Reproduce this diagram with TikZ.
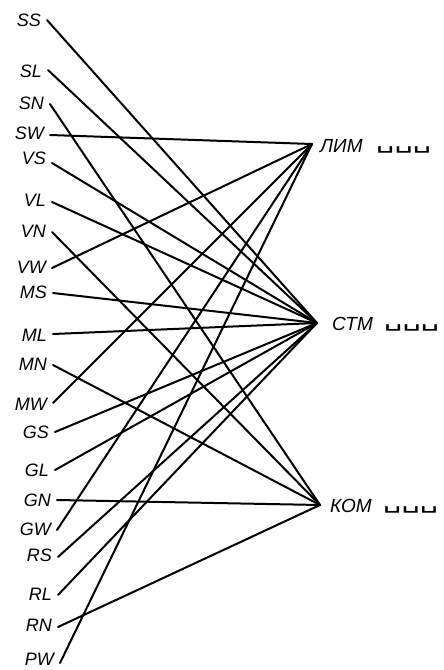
\documentclass[tikz,border=0pt]{standalone}
\usepackage{fontspec}
\usepackage{graphicx}
\setmainfont{Liberation Sans}
\newfontfamily\vsfont{DejaVu Sans Mono}
\newcommand{\vspaces}{\resizebox*{55pt}{6.5pt}{\vsfont ␣␣␣}}
\begin{document}
\begin{tikzpicture}[x=1pt,y=-1pt,
  lab/.style={font=\fontsize{18}{18}\selectfont\itshape, inner sep=0pt, anchor=east},
  rlab/.style={font=\fontsize{19}{19}\selectfont\itshape, inner sep=0pt, anchor=base west},
  vsp/.style={inner sep=0pt, anchor=south west},
  wire/.style={line width=2pt, line cap=round}]
\useasboundingbox (0,0) rectangle (444,670);
% right targets
\coordinate (lim) at (312,144);
\coordinate (stm) at (317,323);
\coordinate (kom) at (320,505);
\node[rlab] (limt) at (320,152) {ЛИМ};
\node[rlab] (stmt) at (332,330) {СТМ};
\node[rlab] (komt) at (330,512) {КОМ};
\node[vsp] (lims) at (376,153) {\vspaces};
\node[vsp] (stms) at (384,331) {\vspaces};
\node[vsp] (koms) at (383,513) {\vspaces};
% left sources: name / line start x / y / label y
\foreach \n/\x/\y/\ly in {SS/47/20/20, SL/48/70/71, SN/50/104/103, SW/50/135/133,
  VS/52/163/158, VL/52/202/200, VN/52/232/231, VW/52/268/267,
  MS/53/293/292, ML/53/334/335, MN/53/365/364, MW/53/403/404,
  GS/55/432/432, GL/55/470/470, GN/57/500/500, GW/57/530/529,
  RS/58/557/555, RL/58/595/594, RN/58/627/625, PW/60/663/659}{
  \coordinate (p\n) at (\x,\y);
  \node[lab] (l\n) at (\x-6,\ly) {\n};
}
\foreach \n in {SW,VW,MW,GW,PW} \draw[wire] (p\n) -- (lim);
\foreach \n in {SS,SL,VS,VL,MS,ML,GS,GL,RS,RL} \draw[wire] (p\n) -- (stm);
\foreach \n in {SN,VN,MN,GN,RN} \draw[wire] (p\n) -- (kom);
\end{tikzpicture}
\end{document}
